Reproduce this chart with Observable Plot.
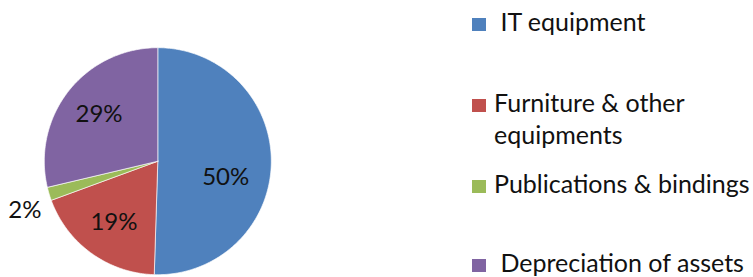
<!DOCTYPE html>
<html>
<head>
<meta charset="utf-8">
<script src="https://cdn.jsdelivr.net/npm/d3@7"></script>
<script src="https://cdn.jsdelivr.net/npm/@observablehq/plot@0.6"></script>
<style>
  html, body { margin: 0; padding: 0; background: #fff; }
  #wrap { position: relative; width: 753px; height: 277px; overflow: hidden; font-family: Lato, sans-serif; }
  #pie { position: absolute; left: 0; top: 0; }
  .item { position: absolute; left: 472px; font-size: 25px; line-height: 32px; color: #111; white-space: pre; }
  .sw { position: absolute; left: 0; width: 14px; height: 13px; }
  .txt { position: absolute; left: 22px; top: 0; }
</style>
</head>
<body>
<div id="wrap"><div id="pie"></div><div id="legend"></div></div>
<script>
const categories = ["IT equipment", "Furniture & other equipments", "Publications & bindings", "Depreciation of assets"];
const values = [50.5, 18.9, 1.9, 28.7];
const valueLabels = ["50%", "19%", "2%", "29%"];
const colors = ["#4F81BD", "#C0504D", "#9BBB59", "#8064A2"];
const legendLabels = [" IT equipment", "Furniture & other\nequipments", "Publications & bindings", " Depreciation of assets"];

const total = d3.sum(values);
let cum = 0;
const slices = categories.map((cat, i) => {
  const start = cum / total * 2 * Math.PI;
  cum += values[i];
  const end = cum / total * 2 * Math.PI;
  return {cat, value: values[i], label: valueLabels[i], start, end, mid: (start + end) / 2};
});
const pts = [];
for (const s of slices) {
  pts.push({cat: s.cat, x: 0, y: 0});
  const n = Math.max(2, Math.ceil((s.end - s.start) / (Math.PI / 180)));
  for (let k = 0; k <= n; k++) {
    const a = s.start + (s.end - s.start) * k / n;
    pts.push({cat: s.cat, x: Math.sin(a), y: Math.cos(a)});
  }
  pts.push({cat: s.cat, x: 0, y: 0});
}
const labelData = slices.map(s => {
  const r = s.value < 5 ? 1.25 : 0.66;
  return {...s, lx: r * Math.sin(s.mid), ly: r * Math.cos(s.mid)};
});

const W = 460, H = 277, cx = 157.3, cy = 160.7, R = 113.5;
const chart = Plot.plot({
  width: W, height: H, margin: 0,
  style: {fontFamily: "Lato, sans-serif", background: "transparent"},
  x: {domain: [-cx / R, (W - cx) / R], axis: null},
  y: {domain: [-(H - cy) / R, cy / R], axis: null},
  color: {domain: categories, range: colors},
  marks: [
    Plot.line(pts, {x: "x", y: "y", z: "cat", fill: "cat", stroke: "#ffffff", strokeWidth: 0.8, strokeOpacity: 0.8}),
    Plot.text(labelData.filter(d => d.value >= 40), {x: "lx", y: "ly", text: "label", fontSize: 24, fill: "#111", dx: -7, dy: 15}),
    Plot.text(labelData.filter(d => d.value >= 5 && d.value < 40), {x: "lx", y: "ly", text: "label", fontSize: 24, fill: "#111"}),
    Plot.text(labelData.filter(d => d.value < 5), {x: "lx", y: "ly", text: "label", fontSize: 24, fill: "#111", dx: 3, dy: 8})
  ]
});
document.getElementById("pie").appendChild(chart);

const baselines = [31, 112, 193, 272];
const legend = document.getElementById("legend");
legendLabels.forEach((t, i) => {
  const item = document.createElement("div");
  item.className = "item";
  item.style.top = (baselines[i] - 25.7) + "px";
  const sw = document.createElement("div");
  sw.className = "sw";
  sw.style.background = colors[i];
  sw.style.top = (25.7 - 13) + "px";
  const tx = document.createElement("div");
  tx.className = "txt";
  tx.textContent = t;
  item.appendChild(sw);
  item.appendChild(tx);
  legend.appendChild(item);
});
</script>
</body>
</html>
